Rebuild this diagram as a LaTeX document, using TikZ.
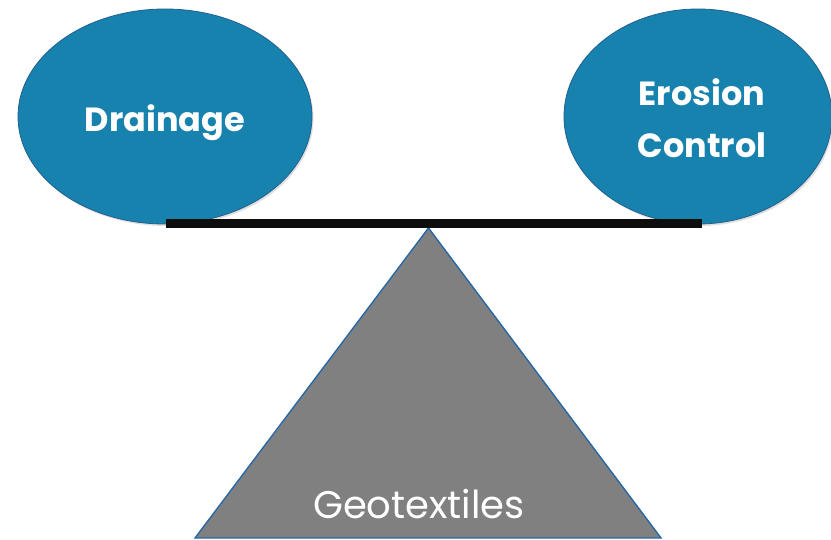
\documentclass[tikz,border=0pt]{standalone}
\usepackage{fontspec}
\setmainfont{Poppins}
\usetikzlibrary{shapes.geometric,shadows}
\definecolor{ballblue}{RGB}{24,130,174}
\definecolor{balledge}{RGB}{35,95,145}
\definecolor{pivotgray}{RGB}{128,128,128}
\definecolor{pivotedge}{RGB}{40,105,165}
\tikzset{
  ball/.style={ellipse, fill=ballblue, draw=balledge, line width=0.8pt, inner sep=0pt,
    drop shadow={shadow xshift=1.5pt, shadow yshift=-2pt, opacity=0.25}},
  balltext/.style={text=white, font=\fontsize{33.5}{52}\selectfont\bfseries, align=center},
  beam/.style={line width=9pt, draw=black!95, line cap=butt},
  pivot/.style={fill=pivotgray, draw=pivotedge, line width=1.4pt, line join=miter},
  pivottext/.style={text=white, font=\fontsize{38.5}{40}\selectfont}
}
\begin{document}
\begin{tikzpicture}[x=1pt,y=-1pt]
\useasboundingbox (0,0) rectangle (831,540);
\node[ball, minimum width=294pt, minimum height=215pt] (drain) at (165,116.5) {};
\node[ball, minimum width=268pt, minimum height=215pt] (eros) at (698,116.5) {};
\node[balltext, anchor=base] (drainlbl) at (165,132) {Drainage};
\node[balltext, anchor=base] (eroslbl1) at (702,106) {Erosion};
\node[balltext, anchor=base] (eroslbl2) at (702,158) {Control};
\coordinate (apex) at (428.5,228);
\coordinate (bl) at (195,538);
\coordinate (br) at (661,538);
\draw[pivot] (apex) -- (br) -- (bl) -- cycle;
\coordinate (beamL) at (166,224);
\coordinate (beamR) at (702,224);
\draw[beam] (beamL) -- (beamR);
\node[pivottext, anchor=base] (geo) at (419,518) {Geotextiles};
\end{tikzpicture}
\end{document}
